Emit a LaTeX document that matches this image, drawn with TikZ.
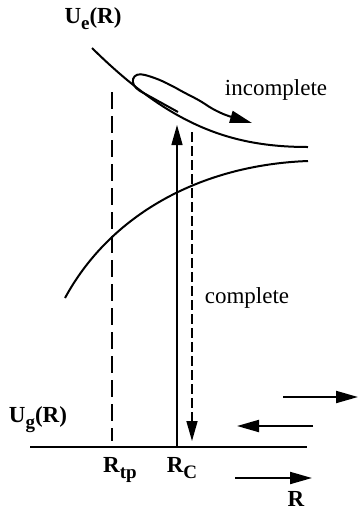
\documentclass[tikz,border=0pt]{standalone}
\usepackage{fontspec}
\setmainfont{Liberation Serif}
\usetikzlibrary{arrows.meta}
\newcommand{\lowsub}[1]{\raisebox{-0.55ex}{\fontsize{9.5}{10}\selectfont #1}}

\begin{document}
\begin{tikzpicture}[x=0.5pt, y=-0.5pt,
  curve/.style={line width=1pt},
  lbl/.style={font=\fontsize{11.5}{13}\selectfont\bfseries, inner sep=0pt},
  word/.style={font=\fontsize{11.5}{13}\selectfont, inner sep=0pt},
  head/.style={-{Triangle[length=10pt,width=5.5pt]}},
  flow/.style={line width=1pt, -{Triangle[length=11pt,width=6pt]}}]
  \useasboundingbox (0,0) rectangle (358,510);
  % potential curves
  \draw[curve] (92,48) .. controls (170,125) and (230,147) .. (308,147);
  \draw[curve] (65,298) .. controls (110,215) and (200,165) .. (308,161);
  % ground line
  \coordinate (gl) at (30,447);
  \coordinate (gr) at (307,447);
  \draw[curve] (gl) -- (gr);
  % turning point and crossing
  \coordinate (tpTop) at (112,92);
  \coordinate (tpBot) at (112,441);
  \draw[line width=0.8pt, dash pattern=on 8.5pt off 3.5pt] (tpTop) -- (tpBot);
  \coordinate (upBot) at (177,447);
  \coordinate (upTop) at (177,125);
  \draw[line width=0.7pt, head] (upBot) -- (upTop);
  \coordinate (dnTop) at (192,132);
  \coordinate (dnBot) at (192,441);
  \draw[line width=0.8pt, dash pattern=on 5pt off 2pt, head] (dnTop) -- (dnBot);
  % hairpin
  \draw[flow] (178,112) -- (140,91) .. controls (128,84) and (132,71) .. (145,75)
    .. controls (160,79) and (168,84) .. (176,88)
    .. controls (188,95) and (196,98) .. (205,104)
    .. controls (215,111) and (225,115) .. (252,123);
  % direction arrows
  \coordinate (a1) at (283,397); \coordinate (b1) at (358,397);
  \coordinate (a2) at (313,426); \coordinate (b2) at (237,426);
  \coordinate (a3) at (235,478); \coordinate (b3) at (312,478);
  \draw[flow] (a1) -- (b1);
  \draw[flow] (a2) -- (b2);
  \draw[flow] (a3) -- (b3);
  % labels
  \node[lbl] (ue) at (93,19) {U\lowsub{e}(R)};
  \node[lbl] (ug) at (38,420) {U\lowsub{g}(R)};
  \node[lbl] (rtp) at (120,470) {R\lowsub{tp}};
  \node[lbl] (rc) at (182,468) {R\lowsub{C}};
  \node[lbl] (rr) at (296,499) {R};
  \node[word] (inc) at (276,90) {incomplete};
  \node[word] (com) at (247,298) {complete};
\end{tikzpicture}
\end{document}
